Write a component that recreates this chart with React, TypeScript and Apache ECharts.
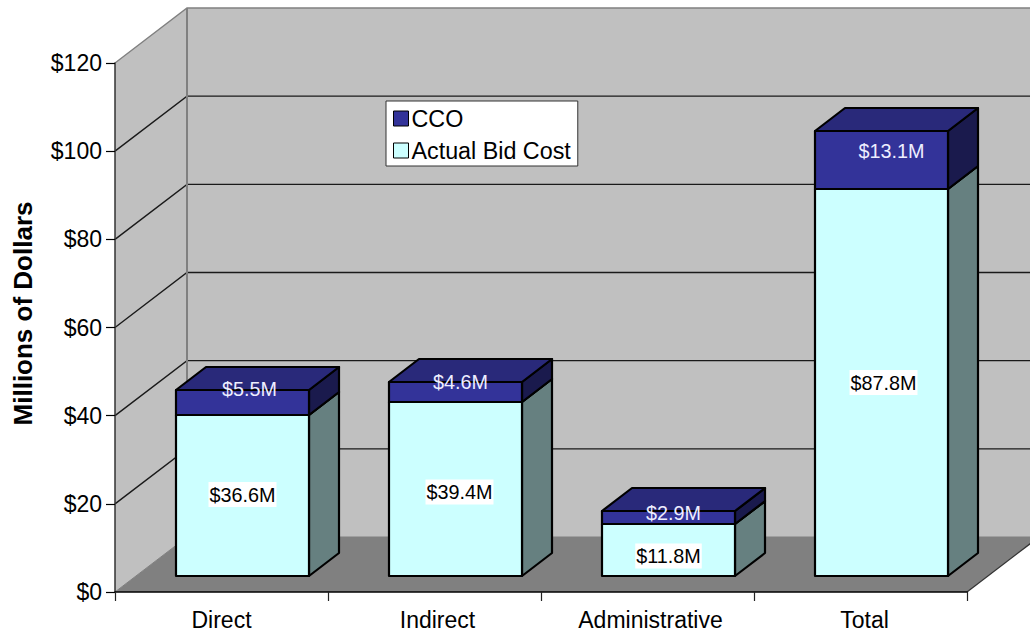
import React, { useEffect, useRef } from "react";
import * as echarts from "echarts";

const categories = ["Direct", "Indirect", "Administrative", "Total"];
const actualBidCost = [36.6, 39.4, 11.8, 87.8];
const cco = [5.5, 4.6, 2.9, 13.1];
const yTicks = [0, 20, 40, 60, 80, 100, 120];

const actualLabelNudge = [[0, -1], [4, 3], [0, 6], [2, 0]];
const ccoLabelNudge = [[7, -14], [5, -10], [5, -5], [10, -9]];
const categoryLabelPad = [0, 6, 6, 8];

const FONT = '"Liberation Sans", Arial, sans-serif';
const WALL = { dx: 72, dy: -55 };
const BAR_SHIFT = { dx: 21, dy: -16 };
const BAR_DEPTH = { dx: 30, dy: -23 };
const BAR_RATIO = 0.625;

function renderWalls(params: any, api: any) {
  const cs = params.coordSys;
  const x0 = cs.x;
  const x1 = cs.x + cs.width;
  const base = api.coord([0, 0])[1];
  const top = api.coord([0, 120])[1];
  const children: any[] = [
    { type: "polygon", shape: { points: [[x0 + WALL.dx, top + WALL.dy], [x1 + WALL.dx, top + WALL.dy], [x1 + WALL.dx, base + WALL.dy], [x0 + WALL.dx, base + WALL.dy]] }, style: { fill: "#c0c0c0", stroke: "none" } },
    { type: "polygon", shape: { points: [[x0, top], [x0 + WALL.dx, top + WALL.dy], [x0 + WALL.dx, base + WALL.dy], [x0, base]] }, style: { fill: "#c0c0c0", stroke: "none" } },
    { type: "polygon", shape: { points: [[x0, base], [x0 + WALL.dx, base + WALL.dy], [x1 + WALL.dx, base + WALL.dy], [x1, base]] }, style: { fill: "#808080", stroke: "none" } },
  ];
  yTicks.forEach((t, i) => {
    const y = api.coord([0, t])[1];
    const isEdge = i === 0 || i === yTicks.length - 1;
    const color = isEdge ? "#808080" : "#1a1a1a";
    children.push({ type: "polyline", shape: { points: [[x0, y], [x0 + WALL.dx, y + WALL.dy], [x1 + WALL.dx, y + WALL.dy]] }, style: { fill: "none", stroke: color, lineWidth: isEdge && i === 0 ? 1 : 1.4 } });
  });
  children.push({ type: "line", shape: { x1: x0 + WALL.dx, y1: top + WALL.dy, x2: x0 + WALL.dx, y2: base + WALL.dy }, style: { stroke: "#808080", lineWidth: 2 } });
  children.push({ type: "line", shape: { x1: x1, y1: base, x2: x1 + WALL.dx, y2: base + WALL.dy }, style: { stroke: "#333", lineWidth: 1.2 } });
  return { type: "group", children };
}

function makeBarRenderer(front: string, topFace: string, side: string, textColor: string, labelBg: string, nudges: number[][]) {
  return (_params: any, api: any) => {
    const idx = api.value(0);
    const low = api.value(1);
    const high = api.value(2);
    const amount = high - low;
    const band = api.size([1, 0])[0];
    const w = band * BAR_RATIO;
    const [cx, yLowRaw] = api.coord([idx, low]);
    const yHighRaw = api.coord([idx, high])[1];
    const l = Math.round(cx + BAR_SHIFT.dx - w / 2);
    const r = Math.round(l + w);
    const yb = Math.round(yLowRaw + BAR_SHIFT.dy);
    const yt = Math.round(yHighRaw + BAR_SHIFT.dy);
    const d = BAR_DEPTH;
    const line = { stroke: "#000000", lineWidth: 2.2, lineJoin: "round" };
    const nudge = nudges[idx];
    return {
      type: "group",
      children: [
        { type: "polygon", shape: { points: [[r, yb], [r + d.dx, yb + d.dy], [r + d.dx, yt + d.dy], [r, yt]] }, style: { fill: side, ...line } },
        { type: "polygon", shape: { points: [[l, yt], [r, yt], [r + d.dx, yt + d.dy], [l + d.dx, yt + d.dy]] }, style: { fill: topFace, ...line } },
        { type: "rect", shape: { x: l, y: yt, width: r - l, height: yb - yt }, style: { fill: front, ...line } },
        {
          type: "text",
          style: {
            text: `$${amount.toFixed(1)}M`,
            x: (l + r) / 2 + nudge[0],
            y: (yb + yt) / 2 + nudge[1],
            align: "center",
            verticalAlign: "middle",
            fill: textColor,
            fontFamily: FONT,
            fontSize: 19.8,
            backgroundColor: labelBg,
            padding: [3, 1, 2, 1],
          },
        },
      ],
    };
  };
}

export default function App() {
  const ref = useRef<HTMLDivElement>(null);
  useEffect(() => {
    const chart = echarts.init(ref.current!, null, { renderer: "svg" });
    const catRich: any = {};
    categoryLabelPad.forEach((p, i) => {
      catRich[`c${i}`] = { fontFamily: FONT, fontSize: 23, color: "#000", padding: [0, 0, 0, p] };
    });
    chart.setOption({
      animation: false,
      backgroundColor: "#ffffff",
      grid: { left: 115, right: 63, top: 63, bottom: 43, outerBoundsMode: "none" },
      legend: {
        left: 386,
        top: 101,
        orient: "vertical",
        data: [
          { name: "CCO", itemStyle: { color: "#333399", borderColor: "#000", borderWidth: 1 } },
          { name: "Actual Bid Cost", itemStyle: { color: "#ccffff", borderColor: "#000", borderWidth: 1 } },
        ],
        icon: "rect",
        itemWidth: 15,
        itemHeight: 15,
        itemGap: 9,
        padding: [6, 7, 4, 7],
        backgroundColor: "#ffffff",
        borderColor: "#333",
        borderWidth: 1,
        textStyle: { fontFamily: FONT, fontSize: 23.3, color: "#000", padding: [0, 0, 0, -2] },
      },
      xAxis: {
        type: "category",
        data: categories,
        z: 5,
        axisLine: { lineStyle: { color: "#000", width: 1.5 } },
        axisTick: { show: true, interval: 0, length: 9, lineStyle: { color: "#222", width: 1.2 } },
        axisLabel: {
          interval: 0,
          fontFamily: FONT,
          fontSize: 23,
          color: "#000",
          margin: 16,
          formatter: (v: string) => `{c${categories.indexOf(v)}|${v}}`,
          rich: catRich,
        },
      },
      yAxis: {
        type: "value",
        min: 0,
        max: 120,
        interval: 20,
        z: 5,
        name: "Millions of Dollars",
        nameLocation: "middle",
        nameGap: 79,
        nameTextStyle: { fontFamily: FONT, fontSize: 26, fontWeight: "bold", color: "#000", padding: [0, 0, 0, 28] },
        axisLine: { show: true, lineStyle: { color: "#333", width: 1.5 } },
        axisTick: { show: true, length: 9, lineStyle: { color: "#000", width: 1.2 } },
        axisLabel: { fontFamily: FONT, fontSize: 23, color: "#000", margin: 13, formatter: (v: number) => `$${v}` },
        splitLine: { show: false },
      },
      series: [
        { type: "custom", name: "walls", silent: true, z: 1, renderItem: renderWalls, data: [[0, 0]], encode: { x: 0, y: 1 } },
        {
          type: "custom",
          name: "Actual Bid Cost",
          z: 2,
          itemStyle: { color: "#ccffff" },
          renderItem: makeBarRenderer("#ccffff", "#a3cccc", "#668080", "#000", "#ffffff", actualLabelNudge),
          encode: { x: 0, y: 2 },
          data: categories.map((_, i) => [i, 0, actualBidCost[i]]),
        },
        {
          type: "custom",
          name: "CCO",
          z: 3,
          itemStyle: { color: "#333399" },
          renderItem: makeBarRenderer("#333399", "#29297a", "#1a1a4d", "#eeeeff", "transparent", ccoLabelNudge),
          encode: { x: 0, y: 2 },
          data: categories.map((_, i) => [i, actualBidCost[i], actualBidCost[i] + cco[i]]),
        },
      ],
    });
    return () => chart.dispose();
  }, []);
  return <div ref={ref} style={{ position: "absolute", left: 0, top: 0, width: 1030, height: 635 }} />;
}
